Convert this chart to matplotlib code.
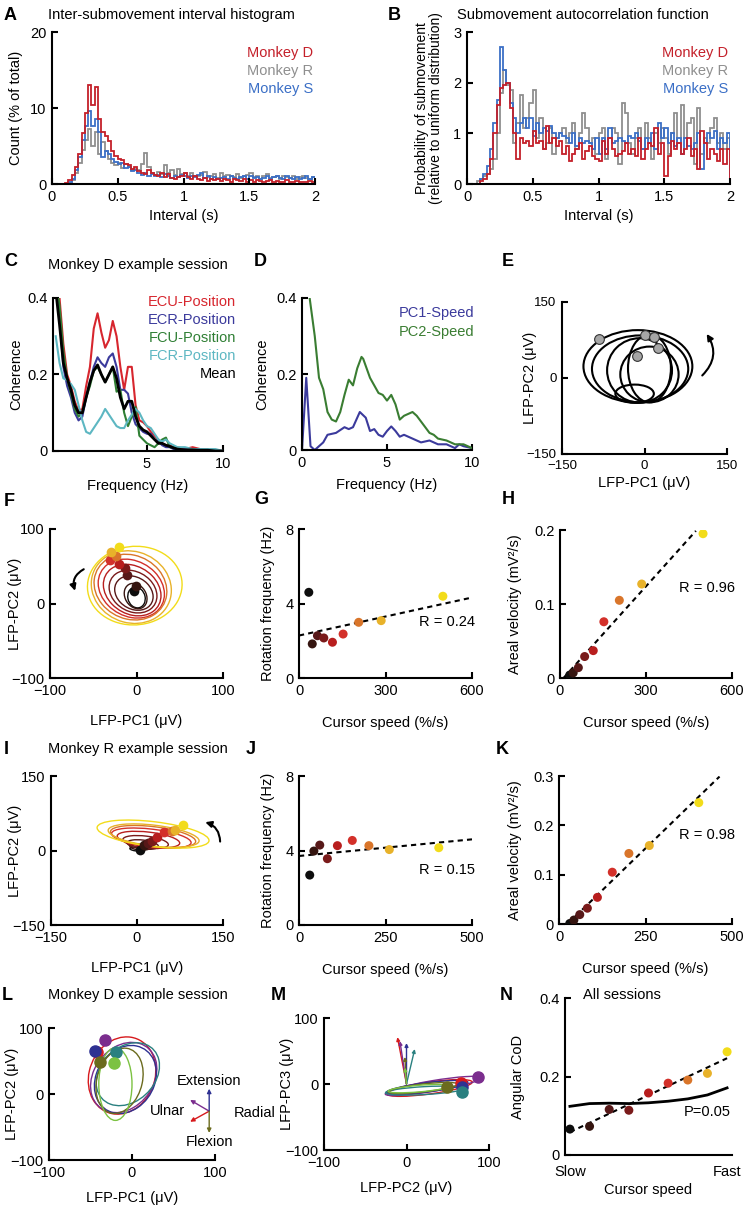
import numpy as np
import matplotlib
matplotlib.use('Agg')
import matplotlib.pyplot as plt
from matplotlib.patches import Ellipse, FancyArrowPatch

plt.rcParams['font.family'] = ['Liberation Sans', 'DejaVu Sans']
plt.rcParams['font.size'] = 10.5

# ---------------- data ----------------
bin_w = 0.025
# A: inter-submovement interval histogram (% of total), 0-2 s
hist_d = [0, 0, 0, 0, 0.1, 0.5, 1.2, 2.2, 3.9, 6.7, 9.3, 13.0, 10.4, 12.7, 8.5, 6.8,
          6.3, 5.6, 4.4, 3.7, 3.3, 3.1, 2.6, 2.5, 2.0, 2.3, 1.7, 1.5, 1.3, 1.8, 1.4, 1.2,
          1.1, 1.5, 0.9, 1.3, 0.8, 0.6, 0.9, 1.0, 1.4, 0.9, 0.7, 1.0, 0.6, 0.5, 0.8, 0.4,
          0.7, 0.5, 0.6, 0.4, 0.7, 0.5, 0.3, 0.6, 0.5, 0.4, 0.6, 0.3, 0.5, 0.3, 0.5, 0.4,
          0.2, 0.4, 0.5, 0.3, 0.4, 0.2, 0.3, 0.5, 0.2, 0.3, 0.4, 0.2, 0.3, 0.2, 0.4, 0.3]
hist_r = [0, 0, 0, 0, 0, 0.1, 0.5, 1.5, 2.8, 4.5, 5.8, 7.2, 5.0, 6.8, 4.0, 5.5,
          4.3, 3.3, 2.8, 2.5, 2.7, 2.1, 2.6, 2.3, 1.8, 2.0, 1.9, 2.6, 4.1, 2.2, 1.5, 1.2,
          1.6, 1.3, 2.5, 1.4, 1.8, 1.2, 2.0, 1.3, 1.5, 1.0, 1.4, 1.1, 1.0, 1.2, 1.6, 0.9,
          1.1, 1.3, 0.8, 1.4, 1.0, 1.2, 1.1, 0.9, 1.3, 0.8, 1.0, 1.2, 1.5, 0.9, 1.1, 0.7,
          1.0, 1.3, 0.8, 0.9, 1.1, 0.7, 1.0, 0.9, 0.8, 1.1, 0.7, 0.9, 1.0, 0.8, 0.6, 0.9]
hist_s = [0, 0, 0, 0, 0, 0.2, 0.6, 1.8, 3.5, 5.8, 7.6, 9.6, 7.6, 8.5, 6.8, 3.6,
          4.3, 3.9, 3.3, 2.9, 2.6, 2.8, 2.1, 2.3, 1.7, 1.9, 1.5, 1.2, 1.5, 1.1, 1.3, 1.0,
          1.2, 0.9, 1.3, 1.0, 0.8, 1.1, 0.9, 1.2, 1.0, 0.8, 1.1, 0.9, 1.2, 1.4, 0.8, 1.0,
          0.7, 0.9, 0.6, 0.8, 0.9, 0.7, 1.0, 0.8, 0.6, 0.9, 1.1, 0.7, 1.0, 0.8, 0.9, 0.6,
          0.8, 1.0, 0.7, 0.9, 1.1, 0.8, 0.7, 1.0, 0.8, 0.6, 0.9, 0.7, 0.8, 1.0, 0.6, 0.9]

# B: autocorrelation (relative to uniform)
acf_d = [0, 0, 0, 0, 0.05, 0.1, 0.2, 0.5, 1.0, 1.55, 1.9, 1.95, 2.0, 1.5, 1.0, 0.5,
         0.9, 0.8, 0.85, 0.75, 1.05, 0.8, 0.85, 0.7, 1.15, 0.8, 0.9, 0.75, 0.85, 0.6, 0.75, 0.45,
         0.6, 0.7, 0.8, 0.5, 0.65, 0.75, 0.55, 0.5, 0.45, 0.85, 0.6, 0.9, 0.7, 0.55, 0.6, 0.65,
         0.8, 0.6, 0.7, 0.55, 0.9, 0.5, 0.7, 0.8, 0.75, 1.1, 0.6, 0.8, 0.15, 0.55, 0.85, 0.7,
         0.8, 0.6, 0.7, 0.9, 0.55, 0.7, 0.3, 1.05, 0.8, 0.5, 0.7, 0.6, 0.45, 0.7, 0.4, 0.7]
acf_r = [0, 0, 0, 0.05, 0.1, 0.15, 0.2, 0.3, 0.5, 1.0, 1.8, 2.25, 1.95, 1.85, 0.8, 1.2,
         1.75, 1.1, 1.3, 1.6, 1.85, 0.9, 1.3, 0.7, 0.8, 1.1, 0.6, 0.9, 1.0, 1.1, 0.8, 1.0,
         1.2, 0.7, 1.0, 1.4, 1.1, 0.8, 0.9, 0.6, 1.0, 1.1, 0.5, 0.9, 1.1, 1.0, 0.4, 1.6,
         1.4, 0.8, 0.6, 0.9, 1.1, 0.7, 1.2, 0.9, 0.5, 1.0, 0.8, 1.1, 0.9, 0.6, 1.0, 1.4,
         0.8, 1.55, 0.9, 1.2, 1.3, 0.4, 1.5, 0.6, 0.9, 0.8, 1.1, 1.3, 0.8, 1.0, 0.7, 0.9]
acf_s = [0, 0, 0, 0, 0.1, 0.2, 0.35, 0.7, 1.2, 1.65, 2.7, 2.25, 2.0, 1.6, 1.3, 1.0,
         1.2, 1.3, 1.1, 1.3, 0.95, 1.2, 1.0, 1.1, 1.05, 1.15, 1.0, 0.9, 1.0, 0.95, 0.9, 0.8,
         1.0, 0.75, 0.9, 0.8, 0.85, 0.8, 0.7, 0.9, 0.6, 0.9, 0.7, 1.1, 0.8, 0.85, 0.9, 0.85,
         0.8, 0.95, 0.9, 1.0, 0.85, 0.7, 0.9, 0.8, 1.0, 0.7, 1.2, 0.9, 1.1, 0.8, 1.0, 0.75,
         0.9, 0.6, 0.9, 0.75, 0.7, 0.8, 1.0, 0.3, 0.8, 1.0, 0.9, 1.05, 0.7, 0.9, 0.8, 1.0]

# C: EMG-position coherence, monkey D session
freq_c = [-1.0, -0.75, -0.5, -0.25, 0, 0.25, 0.5, 0.75, 1.0, 1.25, 1.5, 1.75, 2.0,
          2.25, 2.5, 2.75, 3.0, 3.25, 3.5, 3.75, 4.0, 4.25, 4.5, 4.75, 5.0, 5.25,
          5.5, 5.75, 6.0, 6.25, 6.5, 6.75, 7.0, 7.5, 8.0, 8.5, 9.0, 9.5, 10.0]
coh_ecu = [0.45, 0.40, 0.28, 0.20, 0.17, 0.13, 0.105, 0.11, 0.17, 0.22, 0.32, 0.36, 0.31,
           0.27, 0.29, 0.34, 0.30, 0.22, 0.16, 0.22, 0.22, 0.12, 0.08, 0.075, 0.065, 0.05,
           0.04, 0.03, 0.02, 0.015, 0.015, 0.01, 0.01, 0.005, 0.01, 0.005, 0.005, 0.003, 0]
coh_ecr = [0.45, 0.35, 0.22, 0.17, 0.14, 0.10, 0.08, 0.09, 0.14, 0.18, 0.22, 0.245, 0.23,
           0.22, 0.245, 0.255, 0.22, 0.16, 0.16, 0.15, 0.10, 0.07, 0.06, 0.05, 0.045, 0.045,
           0.03, 0.025, 0.015, 0.01, 0.01, 0.005, 0, 0.005, 0, 0.005, 0, 0, 0]
coh_fcu = [0.45, 0.38, 0.26, 0.19, 0.15, 0.11, 0.09, 0.10, 0.14, 0.17, 0.21, 0.22, 0.20,
           0.18, 0.20, 0.22, 0.155, 0.16, 0.10, 0.065, 0.09, 0.115, 0.04, 0.03, 0.02, 0.015,
           0.01, 0.02, 0.03, 0.035, 0.01, 0.01, 0.005, 0, 0, 0, 0, 0, 0]
coh_fcr = [0.30, 0.23, 0.19, 0.185, 0.175, 0.16, 0.12, 0.08, 0.05, 0.045, 0.06, 0.075, 0.09,
           0.11, 0.095, 0.08, 0.065, 0.06, 0.06, 0.08, 0.095, 0.11, 0.10, 0.08, 0.065, 0.06,
           0.045, 0.03, 0.025, 0.03, 0.02, 0.015, 0.01, 0.01, 0.005, 0.005, 0.005, 0.005, 0]
coh_mean = [0.42, 0.33, 0.23, 0.19, 0.16, 0.12, 0.10, 0.10, 0.14, 0.18, 0.21, 0.225, 0.20,
            0.18, 0.20, 0.22, 0.19, 0.14, 0.11, 0.13, 0.13, 0.09, 0.065, 0.055, 0.05, 0.04,
            0.03, 0.02, 0.02, 0.015, 0.012, 0.008, 0.005, 0.003, 0.003, 0.002, 0.002, 0, 0]

# D: LFP PC-speed coherence
freq_pc1 = [0, 0.25, 0.5, 0.75, 1.25, 1.5, 2.0, 2.5, 2.75, 3.0, 3.4, 3.75, 4.0, 4.25, 4.5,
            4.75, 5.0, 5.25, 5.5, 5.75, 6.0, 6.5, 7.0, 7.5, 7.75, 8.0, 8.5, 9.0, 9.25, 9.5, 10.0]
coh_pc1 = [0, 0.19, 0.01, 0, 0.02, 0.04, 0.045, 0.06, 0.055, 0.06, 0.10, 0.085, 0.05, 0.055,
           0.04, 0.035, 0.05, 0.062, 0.05, 0.035, 0.04, 0.03, 0.02, 0.025, 0.02, 0.015, 0.015,
           0.005, 0.015, 0.01, 0.005]
freq_pc2 = [0.45, 0.75, 1.0, 1.25, 1.5, 1.75, 2.0, 2.25, 2.5, 2.75, 3.0, 3.25, 3.5, 3.6, 4.0,
            4.5, 4.75, 5.0, 5.25, 5.5, 5.75, 6.0, 6.5, 6.75, 7.0, 7.5, 7.75, 8.0, 8.5, 9.0, 9.5, 10.0]
coh_pc2 = [0.4, 0.3, 0.19, 0.16, 0.10, 0.08, 0.075, 0.10, 0.145, 0.185, 0.17, 0.215, 0.245,
           0.24, 0.19, 0.15, 0.145, 0.13, 0.145, 0.12, 0.08, 0.09, 0.10, 0.09, 0.075, 0.045,
           0.04, 0.03, 0.025, 0.015, 0.015, 0.005]

# E: single-trial LFP rotations (cx, cy, width, height)
e_loops = [(-12, 23, 198, 143), (-8, 18, 175, 132), (-9, 15, 118, 127),
           (9, 7, 106, 110), (9, 19, 78, 134), (-18, -31, 70, 36)]
e_dot_x = [-83, 0, 17, 24, -13]
e_dot_y = [76, 84, 80, 60, 43]

# speed-binned colours (slow -> fast)
speed_colors = ['#0d0d0d', '#351510', '#571818', '#7a1a1a', '#b81e1e',
                '#d3302a', '#d9752a', '#e8b22a', '#f2dc1a']

# F: monkey D speed-binned rotations (cx, cy, w, h, angle)
f_loops = [(0, 8, 20, 28, 10), (-1, 10, 25, 35, 20), (-3, 14, 40, 50, 40),
           (-4, 16, 50, 62, 40), (-5, 18, 60, 75, 40), (-6, 20, 70, 85, 40),
           (-7, 22, 80, 92, 35), (-6, 22, 90, 100, 30), (-2, 24, 110, 105, 20)]
f_dot_x = [-3, -1, -11, -13, -20, -31, -24, -29, -20]
f_dot_y = [17, 23, 38, 47, 53, 58, 64, 69, 76]

speed_d = [34, 46, 64, 86, 116, 153, 207, 285, 499]
rotfreq_d = [4.6, 1.83, 2.27, 2.15, 1.92, 2.36, 2.99, 3.08, 4.39]
areal_d = [0.004, 0.007, 0.014, 0.029, 0.037, 0.076, 0.105, 0.127, 0.195]

# I: monkey R speed-binned rotations
i_loops = [(0, 3, 25, 8, -5), (5, 7, 35, 12, -6), (10, 12, 55, 18, -8),
           (15, 17, 80, 24, -8), (20, 22, 110, 30, -8), (25, 25, 140, 36, -8),
           (28, 28, 150, 40, -8), (29, 30, 160, 42, -8), (28, 33, 197, 50, -8)]
i_dot_x = [6, 12, 20, 26, 35, 47, 61, 67, 81]
i_dot_y = [1, 11, 15, 19, 27, 37, 40, 42, 52]

speed_r = [31, 43, 60, 82, 111, 154, 202, 261, 404]
rotfreq_r = [2.68, 3.97, 4.29, 3.56, 4.26, 4.54, 4.26, 4.05, 4.15]
areal_r = [0.001, 0.008, 0.019, 0.032, 0.054, 0.105, 0.143, 0.159, 0.246]

# L / M: direction-specific rotations
dir_colors = ['#d7191c', '#7b2d8e', '#2e3192', '#2a8080', '#6b6b1e', '#7cc242']
l_loops = [(-12, 28, 80, 118, -10), (-10, 25, 75, 110, -20), (-8, 22, 72, 105, -15),
           (-5, 30, 70, 100, -25), (-15, 20, 55, 100, -10), (-20, 15, 40, 110, 0)]
l_dot_x = [-42, -32, -44, -19, -38, -22]
l_dot_y = [64, 82, 65, 64, 49, 47]
l_arrow_dx = [-23, -23, 0, 26, 0, 26]
l_arrow_dy = [-16, 17, 34, 17, -33, -16]
m_loops = [(28, -6, 105, 18, 10), (32, -3, 118, 16, 12), (25, -5, 100, 14, 9),
           (22, -10, 95, 12, 4), (20, -6, 85, 12, 8), (15, -7, 75, 10, 6)]
m_dot_x = [66, 87, 67, 67, 49, None]
m_dot_y = [1, 11, -5, -12, -4, None]
m_arrow_x = [-11, -8, 0, 10, -2, -2]
m_arrow_y = [71, 65, 62, 53, 41, 25]

# N: all sessions
speed_bin = [1, 2, 3, 4, 5, 6, 7, 8, 9]
angular_cod = [0.066, 0.073, 0.116, 0.114, 0.158, 0.183, 0.191, 0.208, 0.263]
cod_p05 = [0.124, 0.131, 0.132, 0.131, 0.133, 0.137, 0.143, 0.153, 0.171]

# ---------------- figure ----------------
W, H = 744, 1207
fig = plt.figure(figsize=(W / 100, H / 100), dpi=100)


def box(x0, y0, x1, y1):
    ax = fig.add_axes([x0 / W, 1 - y1 / H, (x1 - x0) / W, (y1 - y0) / H])
    ax.spines['top'].set_visible(False)
    ax.spines['right'].set_visible(False)
    ax.spines['left'].set_linewidth(1.5)
    ax.spines['bottom'].set_linewidth(1.5)
    ax.tick_params(direction='in', length=4, width=1.5, labelsize=10.5, pad=4)
    ax.patch.set_alpha(0)
    return ax


def ylab(ax, s, x_px, x0, x1, **kw):
    # centre of the y label at a given figure x (pixels)
    ax.set_ylabel(s, va='center', **kw)
    ax.yaxis.set_label_coords((x_px - x0) / (x1 - x0), 0.5)


def ftext(x, y, s, **kw):
    fig.text(x / W, 1 - y / H, s, **kw)


def letter(x, y, s):
    ftext(x, y, s, fontsize=13, fontweight='bold', va='center', ha='left')


red, gray, blue = '#c4202a', '#8f8f8f', '#3b6fc6'

# A
ax = box(52, 32, 315, 184)
edges = np.arange(len(hist_d) + 1) * bin_w
ax.stairs(hist_r, edges, color=gray, lw=1.3)
ax.stairs(hist_s, edges, color=blue, lw=1.3)
ax.stairs(hist_d, edges, color=red, lw=1.3)
ax.set_xlim(0, 2)
ax.set_ylim(0, 20)
ax.set_xticks([0, 0.5, 1, 1.5, 2], ['0', '0.5', '1', '1.5', '2'])
ax.set_yticks([0, 10, 20])
ax.set_xlabel('Interval (s)', labelpad=4)
ylab(ax, 'Count (% of total)', 16, 52, 315)
for k, (s, c) in enumerate([('Monkey D', red), ('Monkey R', gray), ('Monkey S', blue)]):
    ftext(313, 53 + 18 * k, s, color=c, ha='right', va='center')
letter(4, 15, 'A')
ftext(48, 15, 'Inter-submovement interval histogram', va='center')

# B
ax = box(467, 32, 730, 184)
ax.stairs(acf_r, edges, color=gray, lw=1.3)
ax.stairs(acf_s, edges, color=blue, lw=1.3)
ax.stairs(acf_d, edges, color=red, lw=1.3)
ax.set_xlim(0, 2)
ax.set_ylim(0, 3)
ax.set_xticks([0, 0.5, 1, 1.5, 2], ['0', '0.5', '1', '1.5', '2'])
ax.set_yticks([0, 1, 2, 3])
ax.set_xlabel('Interval (s)', labelpad=4)
ylab(ax, 'Probability of submovement\n(relative to uniform distribution)', 429, 467, 730,
     linespacing=1.05, fontsize=10)
for k, (s, c) in enumerate([('Monkey D', red), ('Monkey R', gray), ('Monkey S', blue)]):
    ftext(728, 53 + 18 * k, s, color=c, ha='right', va='center')
letter(388, 15, 'B')
ftext(457, 15, 'Submovement autocorrelation function', va='center')

# C
ax = box(53, 298, 223, 451)
c_series = [(coh_ecu, '#d7262e', 'ECU-Position'), (coh_ecr, '#3b3a9c', 'ECR-Position'),
            (coh_fcu, '#2f7f34', 'FCU-Position'), (coh_fcr, '#5db7c2', 'FCR-Position'),
            (coh_mean, '#000000', 'Mean')]
for vals, c, name in c_series[:4]:
    ax.plot(freq_c, vals, color=c, lw=1.5)
ax.plot(freq_c, coh_mean, color='k', lw=2)
ax.set_xlim(-1.18, 10)
ax.set_ylim(0, 0.4)
ax.set_xticks([5, 10])
ax.set_yticks([0, 0.2, 0.4], ['0', '0.2', '0.4'])
ax.set_xlabel('Frequency (Hz)', labelpad=6)
ylab(ax, 'Coherence', 16, 53, 223)
for k, (vals, c, name) in enumerate(c_series):
    ftext(236, 302 + 18 * k, name, color=c, ha='right', va='center')
letter(4, 262, 'C')
ftext(48, 265, 'Monkey D example session', va='center')

# D
ax = box(302, 298, 472, 450)
ax.plot(freq_pc1, coh_pc1, color='#3b3a9c', lw=1.5)
ax.plot(freq_pc2, coh_pc2, color='#3a7d32', lw=1.5)
ax.set_xlim(0, 10)
ax.set_ylim(0, 0.4)
ax.set_xticks([0, 5, 10])
ax.set_yticks([0, 0.2, 0.4], ['0', '0.2', '0.4'])
ax.set_xlabel('Frequency (Hz)', labelpad=6)
ylab(ax, 'Coherence', 262, 302, 472)
ftext(474, 313, 'PC1-Speed', color='#3b3a9c', ha='right', va='center')
ftext(474, 332, 'PC2-Speed', color='#3a7d32', ha='right', va='center')
letter(254, 262, 'D')

# E
ax = box(562, 302, 727, 454)
for cx, cy, w, h in e_loops:
    ax.add_patch(Ellipse((cx, cy), w, h, fill=False, ec='k', lw=1.5))
ax.plot(e_dot_x, e_dot_y, 'o', ms=7, mfc='#a6a6a6', mec='#333333', mew=0.8)
ax.add_patch(FancyArrowPatch((105, 5), (113, 87), connectionstyle='arc3,rad=0.4',
                             arrowstyle='-|>', mutation_scale=9, color='k', lw=1.5,
                             shrinkA=0, shrinkB=0))
ax.set_xlim(-150, 150)
ax.set_ylim(-150, 150)
ax.set_xticks([-150, 0, 150])
ax.set_yticks([-150, 0, 150])
ax.tick_params(labelsize=9.5)
ax.set_xlabel('LFP-PC1 (\u03bcV)', labelpad=3)
ylab(ax, 'LFP-PC2 (\u03bcV)', 530, 562, 727)
letter(502, 262, 'E')


def loop_panel(ax, loops, dx, dy, lim, ticks, x0, x1):
    for k, (cx, cy, w, h, ang) in enumerate(loops):
        ax.add_patch(Ellipse((cx, cy), w, h, angle=ang, fill=False,
                             ec=speed_colors[k], lw=1.0))
    for k in range(len(dx)):
        ax.plot(dx[k], dy[k], 'o', ms=7, color=speed_colors[k], mec='none')
    ax.set_xlim(-lim, lim)
    ax.set_ylim(-lim, lim)
    ax.set_xticks(ticks)
    ax.set_yticks(ticks)
    ax.set_xlabel('LFP-PC1 (\u03bcV)', labelpad=12)
    ylab(ax, 'LFP-PC2 (\u03bcV)', 15, x0, x1)


def speed_panel(ax, speed, vals, span, xmax, ymax, yt, ytl, rtxt, rpos, ylabel, lx, x0, x1):
    p = np.polyfit(speed, vals, 1)
    xs = np.array(span)
    ax.plot(xs, np.polyval(p, xs), color='k', lw=1.5, ls=(0, (2.5, 2)))
    ax.scatter(speed, vals, s=42, c=speed_colors, zorder=3, edgecolors='none')
    ax.set_xlim(0, xmax)
    ax.set_ylim(0, ymax)
    ax.set_xticks([0, xmax / 2, xmax], ['0', str(int(xmax / 2)), str(int(xmax))])
    ax.set_yticks(yt, ytl)
    ax.set_xlabel('Cursor speed (%/s)', labelpad=13)
    ylab(ax, ylabel, lx, x0, x1)
    ax.text(rpos[0], rpos[1], rtxt, ha='right', va='center', clip_on=False)


# F
ax = box(50, 529, 223, 678)
loop_panel(ax, f_loops, f_dot_x, f_dot_y, 100, [-100, 0, 100], 50, 223)
ax.add_patch(FancyArrowPatch((-61, 46), (-71, 17), connectionstyle='arc3,rad=0.4',
                             arrowstyle='-|>', mutation_scale=9, color='k', lw=1.5,
                             shrinkA=0, shrinkB=0))
letter(4, 502, 'F')

# G
ax = box(299, 529, 472, 678)
speed_panel(ax, speed_d, rotfreq_d, [0, 600], 600, 8, [0, 4, 8], ['0', '4', '8'],
            'R = 0.24', (610, 3.0), 'Rotation frequency (Hz)', 268, 299, 472)
letter(254, 500, 'G')

# H
ax = box(560, 530, 732, 678)
speed_panel(ax, speed_d, areal_d, [12, 474], 600, 0.2, [0, 0.1, 0.2], ['0', '0.1', '0.2'],
            'R = 0.96', (610, 0.121), 'Areal velocity (mV\u00b2/s)', 515, 560, 732)
letter(502, 500, 'H')

# I
ax = box(51, 776, 223, 925)
loop_panel(ax, i_loops, i_dot_x, i_dot_y, 150, [-150, 0, 150], 51, 223)
ax.add_patch(FancyArrowPatch((145, 18), (119, 57), connectionstyle='arc3,rad=0.35',
                             arrowstyle='-|>', mutation_scale=9, color='k', lw=1.5,
                             shrinkA=0, shrinkB=0))
letter(4, 749, 'I')
ftext(48, 749, 'Monkey R example session', va='center')

# J
ax = box(299, 776, 472, 925)
speed_panel(ax, speed_r, rotfreq_r, [0, 500], 500, 8, [0, 4, 8], ['0', '4', '8'],
            'R = 0.15', (508, 2.95), 'Rotation frequency (Hz)', 268, 299, 472)
letter(246, 749, 'J')

# K
ax = box(559, 776, 732, 924)
speed_panel(ax, speed_r, areal_r, [28, 464], 500, 0.3, [0, 0.1, 0.2, 0.3],
            ['0', '0.1', '0.2', '0.3'], 'R = 0.98', (508, 0.181),
            'Areal velocity (mV\u00b2/s)', 515, 559, 732)
letter(496, 749, 'K')

# L
ax = box(49, 1028, 215, 1160)
for k, (cx, cy, w, h, ang) in enumerate(l_loops):
    ax.add_patch(Ellipse((cx, cy), w, h, angle=ang, fill=False, ec=dir_colors[k], lw=1.0))
for k in range(len(l_dot_x)):
    ax.plot(l_dot_x[k], l_dot_y[k], 'o', ms=8, color=dir_colors[k])
for k in range(len(l_arrow_dx)):
    ax.annotate('', xy=(93 + l_arrow_dx[k], -26 + l_arrow_dy[k]), xytext=(93, -26),
                arrowprops=dict(arrowstyle='-|>', color=dir_colors[k], lw=1.0,
                                mutation_scale=6, shrinkA=0, shrinkB=0))
ax.text(93, 20, 'Extension', ha='center', va='center')
ax.text(93, -73, 'Flexion', ha='center', va='center')
ax.text(64, -26, 'Ulnar', ha='right', va='center')
ax.text(122, -29, 'Radial', ha='left', va='center')
ax.set_xlim(-100, 100)
ax.set_ylim(-100, 100)
ax.set_xticks([-100, 0, 100])
ax.set_yticks([-100, 0, 100])
ax.set_xlabel('LFP-PC1 (\u03bcV)', labelpad=8)
ylab(ax, 'LFP-PC2 (\u03bcV)', 12, 49, 215)
letter(2, 995, 'L')
ftext(48, 995, 'Monkey D example session', va='center')

# M
ax = box(324, 1018, 489, 1150)
for k, (cx, cy, w, h, ang) in enumerate(m_loops):
    ax.add_patch(Ellipse((cx, cy), w, h, angle=ang, fill=False, ec=dir_colors[k], lw=1.0))
for k in range(len(m_dot_x)):
    if m_dot_x[k] is not None:
        ax.plot(m_dot_x[k], m_dot_y[k], 'o', ms=8, color=dir_colors[k])
for k in range(len(m_arrow_x)):
    ax.annotate('', xy=(m_arrow_x[k], m_arrow_y[k]), xytext=(0, 0),
                arrowprops=dict(arrowstyle='-|>', color=dir_colors[k], lw=1.0,
                                mutation_scale=5, shrinkA=0, shrinkB=0))
ax.set_xlim(-100, 100)
ax.set_ylim(-100, 100)
ax.set_xticks([-100, 0, 100])
ax.set_yticks([-100, 0, 100])
ax.set_xlabel('LFP-PC2 (\u03bcV)', labelpad=8)
ylab(ax, 'LFP-PC3 (\u03bcV)', 287, 324, 489)
letter(271, 995, 'M')

# N
ax = box(565, 998, 732, 1155)
p = np.polyfit(speed_bin, angular_cod, 1)
xs = np.array([1, 9])
ax.plot(xs, np.polyval(p, xs), color='k', lw=1.5, ls=(0, (2.5, 2)))
ax.plot(speed_bin, cod_p05, color='k', lw=2)
ax.scatter(speed_bin, angular_cod, s=42, c=speed_colors, zorder=3, edgecolors='none')
ax.set_xlim(0.75, 9.25)
ax.set_ylim(0, 0.4)
ax.set_xticks([1, 9], ['Slow', 'Fast'])
ax.tick_params(axis='x', length=0, pad=7)
ax.set_yticks([0, 0.2, 0.4], ['0', '0.2', '0.4'])
ax.set_xlabel('Cursor speed', labelpad=3)
ylab(ax, 'Angular CoD', 518, 565, 732)
ax.text(9.2, 0.11, 'P=0.05', ha='right', va='center')
ftext(583, 995, 'All sessions', va='center')
letter(500, 995, 'N')

fig.savefig('out.png', dpi=100)
